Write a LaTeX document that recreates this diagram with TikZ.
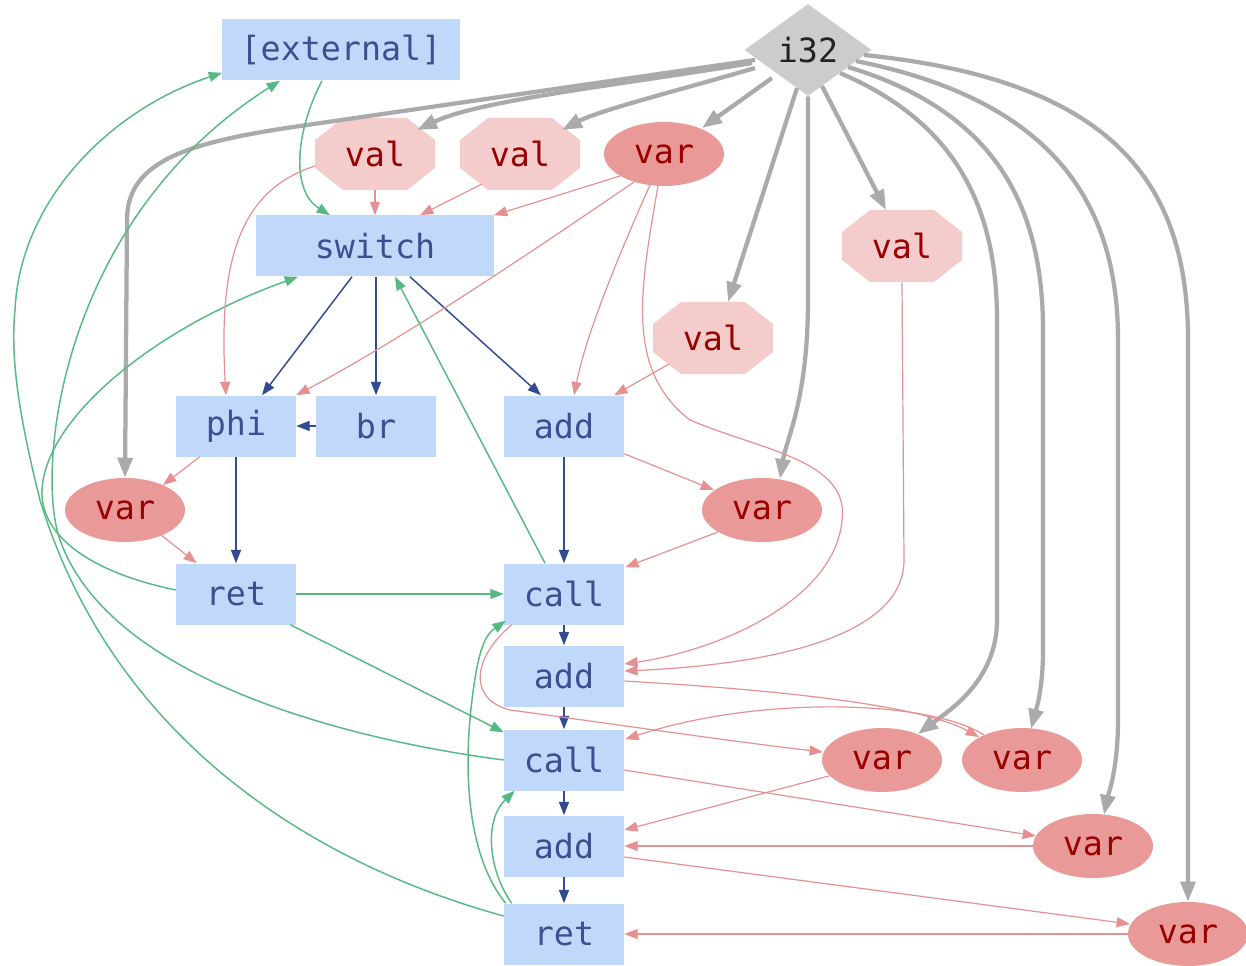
\documentclass[tikz,border=0pt]{standalone}
\usepackage{fontspec}
\setmonofont{DejaVu Sans Mono}
\usetikzlibrary{shapes.geometric,arrows.meta,calc}
\definecolor{boxfill}{RGB}{192,217,251}
\definecolor{boxtext}{RGB}{60,80,145}
\definecolor{navy}{RGB}{50,75,145}
\definecolor{valfill}{RGB}{244,204,204}
\definecolor{varfill}{RGB}{234,153,153}
\definecolor{redtext}{RGB}{153,0,0}
\definecolor{redline}{RGB}{230,145,145}
\definecolor{greenline}{RGB}{87,185,130}
\definecolor{grayline}{RGB}{170,170,170}
\definecolor{typefill}{RGB}{204,204,204}
\definecolor{typetext}{RGB}{34,34,34}
\tikzset{
  lbl/.style={font=\ttfamily\fontsize{25}{30}\selectfont, inner sep=0pt},
  instr/.style={lbl, rectangle, fill=boxfill, text=boxtext, minimum width=90pt, minimum height=45.75pt},
  widebox/.style={instr, minimum width=178pt},
  varnode/.style={lbl, ellipse, fill=varfill, text=redtext, minimum width=90pt, minimum height=48pt},
  valnode/.style={lbl, rectangle, text=redtext, minimum width=90pt, minimum height=54pt},
  typenode/.style={lbl, diamond, aspect=1.4, fill=typefill, text=typetext, minimum width=95.25pt, minimum height=69pt},
  typeedge/.style={draw=grayline, line width=3.2pt, -{Triangle[length=15pt,width=11pt]}},
  cfedge/.style={draw=navy, line width=1.1pt, -{Triangle[length=10pt,width=7.5pt]}},
  callflow/.style={draw=greenline, line width=1.1pt, -{Triangle[length=10pt,width=7.5pt]}},
  dataedge/.style={draw=redline, line width=0.9pt, -{Triangle[length=10pt,width=7.5pt]}},
}
\newcommand\valoct[3]{%
  \fill[valfill] ({#2-60},{#3-14}) -- ({#2-32},{#3-36}) -- ({#2+32},{#3-36}) -- ({#2+60},{#3-14}) -- ({#2+60},{#3+14}) -- ({#2+32},{#3+36}) -- ({#2-32},{#3+36}) -- ({#2-60},{#3+14}) -- cycle;
  \node[valnode] (#1) at (#2,#3) {val};}
\begin{document}
\begin{tikzpicture}[x=0.75pt,y=-0.75pt]
\useasboundingbox (0,0) rectangle (1246,966);
% nodes
\node[widebox] (ext) at (341,50) {[external]};
\node[typenode] (i32) at (808,50) {i32};
\valoct{v1}{375}{154}
\valoct{v2}{520}{154}
\node[varnode] (r1) at (664,154) {var};
\node[widebox] (sw) at (375,246) {switch};
\valoct{v3}{902}{246}
\valoct{v4}{713}{338}
\node[instr] (phi) at (236,426) {phi};
\node[instr] (br) at (376,426) {br};
\node[instr] (add1) at (564,426) {add};
\node[varnode] (rL) at (125,510) {var};
\node[varnode] (rM) at (762,510) {var};
\node[instr] (ret1) at (236,594) {ret};
\node[instr] (call1) at (564,594) {call};
\node[instr] (add2) at (564,676) {add};
\node[instr] (call2) at (564,760) {call};
\node[instr] (add3) at (564,846) {add};
\node[instr] (ret2) at (564,934) {ret};
\node[varnode] (ra) at (882,760) {var};
\node[varnode] (rb) at (1022,760) {var};
\node[varnode] (rc) at (1093,846) {var};
\node[varnode] (rd) at (1188,934) {var};
% type edges
\draw[typeedge] ($(i32)+(-53,10)$) -- (300,126) .. controls (190,142) and (127,160) .. (127,220) -- (rL.north);
\draw[typeedge] ($(i32)+(-56,13)$) .. controls (620,85) and (480,100) .. ($(v1)+(42,-24)$);
\draw[typeedge] ($(i32)+(-53,18)$) .. controls (680,90) and (600,110) .. ($(v2)+(42,-24)$);
\draw[typeedge] ($(i32)+(-36,28)$) -- ($(r1)+(38,-26)$);
\draw[typeedge] ($(i32)+(-11,38)$) -- ($(v4)+(15,-36)$);
\draw[typeedge] (i32.south) -- (808,300) .. controls (808,400) and (786,440) .. ($(rM)+(18,-31)$);
\draw[typeedge] ($(i32)+(14,36)$) -- ($(v3)+(-16,-36)$);
\draw[typeedge] ($(i32)+(32,23)$) .. controls (950,120) and (997,200) .. (997,320) -- (997,620) .. controls (997,680) and (950,710) .. ($(ra)+(36,-26)$);
\draw[typeedge] ($(i32)+(40,17)$) .. controls (990,110) and (1043,200) .. (1043,330) -- (1043,650) .. controls (1043,690) and (1036,710) .. ($(rb)+(9,-31)$);
\draw[typeedge] ($(i32)+(48,11)$) .. controls (1050,100) and (1118,200) .. (1118,340) -- (1118,720) .. controls (1118,770) and (1108,795) .. ($(rc)+(11,-31)$);
\draw[typeedge] ($(i32)+(56,5)$) .. controls (1110,80) and (1188,180) .. (1188,340) -- (rd.north);
% control flow
\draw[cfedge] ($(sw.south)+(-23,0)$) -- ($(phi.north)+(26,0)$);
\draw[cfedge] (sw.south -| br.north) -- (br.north);
\draw[cfedge] ($(sw.south)+(35,0)$) -- ($(add1.north)+(-23,0)$);
\draw[cfedge] (br) -- (phi);
\draw[cfedge] (phi) -- (ret1);
\draw[cfedge] (add1) -- (call1);
\draw[cfedge] (call1) -- (add2);
\draw[cfedge] (add2) -- (call2);
\draw[cfedge] (call2) -- (add3);
\draw[cfedge] (add3) -- (ret2);
% call edges
\draw[callflow] ($(ext.south)+(-19,0)$) .. controls (296,130) and (290,190) .. ($(sw.north)+(-45,0)$);
\draw[callflow] ($(call1.north)+(-19,0)$) -- ($(sw.south)+(20,0)$);
\draw[callflow] ($(ret1.west)+(0,-4)$) .. controls (80,570) and (40,530) .. (42,490) .. controls (45,420) and (150,330) .. ($(sw.south)+(-77,0)$);
\draw[callflow] (call2.west) .. controls (350,740) and (110,680) .. (60,540) .. controls (35,470) and (60,220) .. ($(ext.south)+(-61,0)$);
\draw[callflow] ($(ret2.west)+(0,-18)$) .. controls (300,860) and (110,730) .. (40,500) .. controls (20,420) and (10,360) .. (15,310) .. controls (20,200) and (110,110) .. ($(ext.south west)+(0,-8)$);
\draw[callflow] ($(ret2.north west)+(2,0)$) .. controls (470,860) and (462,780) .. (472,700) .. controls (478,650) and (485,635) .. ($(call1.south west)+(2,-4)$);
\draw[callflow] ($(ret2.north west)+(8,0)$) .. controls (488,870) and (484,820) .. ($(call2.south west)+(11,0)$);
\draw[callflow] (ret1) -- (call1);
\draw[callflow] ($(ret1.south east)+(-6,0)$) -- ($(call2.north west)+(0,3)$);
% data edges
\draw[dataedge] (v1.south) -- (sw.north);
\draw[dataedge] ($(v1)+(-60,12)$) .. controls (240,190) and (218,260) .. ($(phi.north)+(-10,0)$);
\draw[dataedge] ($(v2)+(-38,30)$) -- ($(sw.north)+(45,0)$);
\draw[dataedge] ($(r1)+(-44,22)$) -- (sw.north east);
\draw[dataedge] ($(r1)+(-30,28)$) .. controls (520,260) and (400,340) .. (phi.north east);
\draw[dataedge] ($(r1)+(-14,31)$) .. controls (612,270) and (585,340) .. ($(add1.north)+(10,0)$);
\draw[dataedge] ($(r1)+(-6,32)$) .. controls (640,290) and (625,370) .. (690,420) .. controls (760,450) and (850,460) .. (842,520) .. controls (835,600) and (720,650) .. ($(add2.east)+(0,-12)$);
\draw[dataedge] ($(v4)+(-44,26)$) -- ($(add1.north east)+(-10,0)$);
\draw[dataedge] (v3.south) -- (904,560) .. controls (904,640) and (760,665) .. ($(add2.east)+(0,-5)$);
\draw[dataedge] ($(add1.south east)+(0,-3)$) -- ($(rM)+(-48,-20)$);
\draw[dataedge] ($(rM)+(-44,22)$) -- ($(call1.north east)+(1,4)$);
\draw[dataedge] ($(phi.south west)+(24,0)$) -- ($(rL)+(38,-25)$);
\draw[dataedge] ($(rL)+(36,25)$) -- ($(ret1.north west)+(21,0)$);
\draw[dataedge] ($(call1.south west)+(8,0)$) .. controls (470,660) and (470,700) .. (510,710) .. controls (600,722) and (720,740) .. ($(ra)+(-59,-8)$);
\draw[dataedge] ($(add2.east)+(0,5)$) .. controls (780,690) and (920,705) .. ($(rb)+(-43,-23)$);
\draw[dataedge] ($(rb)+(-38,-25)$) .. controls (930,700) and (760,695) .. ($(call2.north east)+(1,10)$);
\draw[dataedge] ($(ra)+(-53,16)$) -- ($(add3.east)+(0,-16)$);
\draw[dataedge] ($(call2.east)+(0,10)$) -- ($(rc)+(-57,-10)$);
\draw[dataedge] (rc) -- (add3);
\draw[dataedge] ($(add3.east)+(0,11)$) -- ($(rd)+(-58,-10)$);
\draw[dataedge] (rd) -- (ret2);
\end{tikzpicture}
\end{document}
